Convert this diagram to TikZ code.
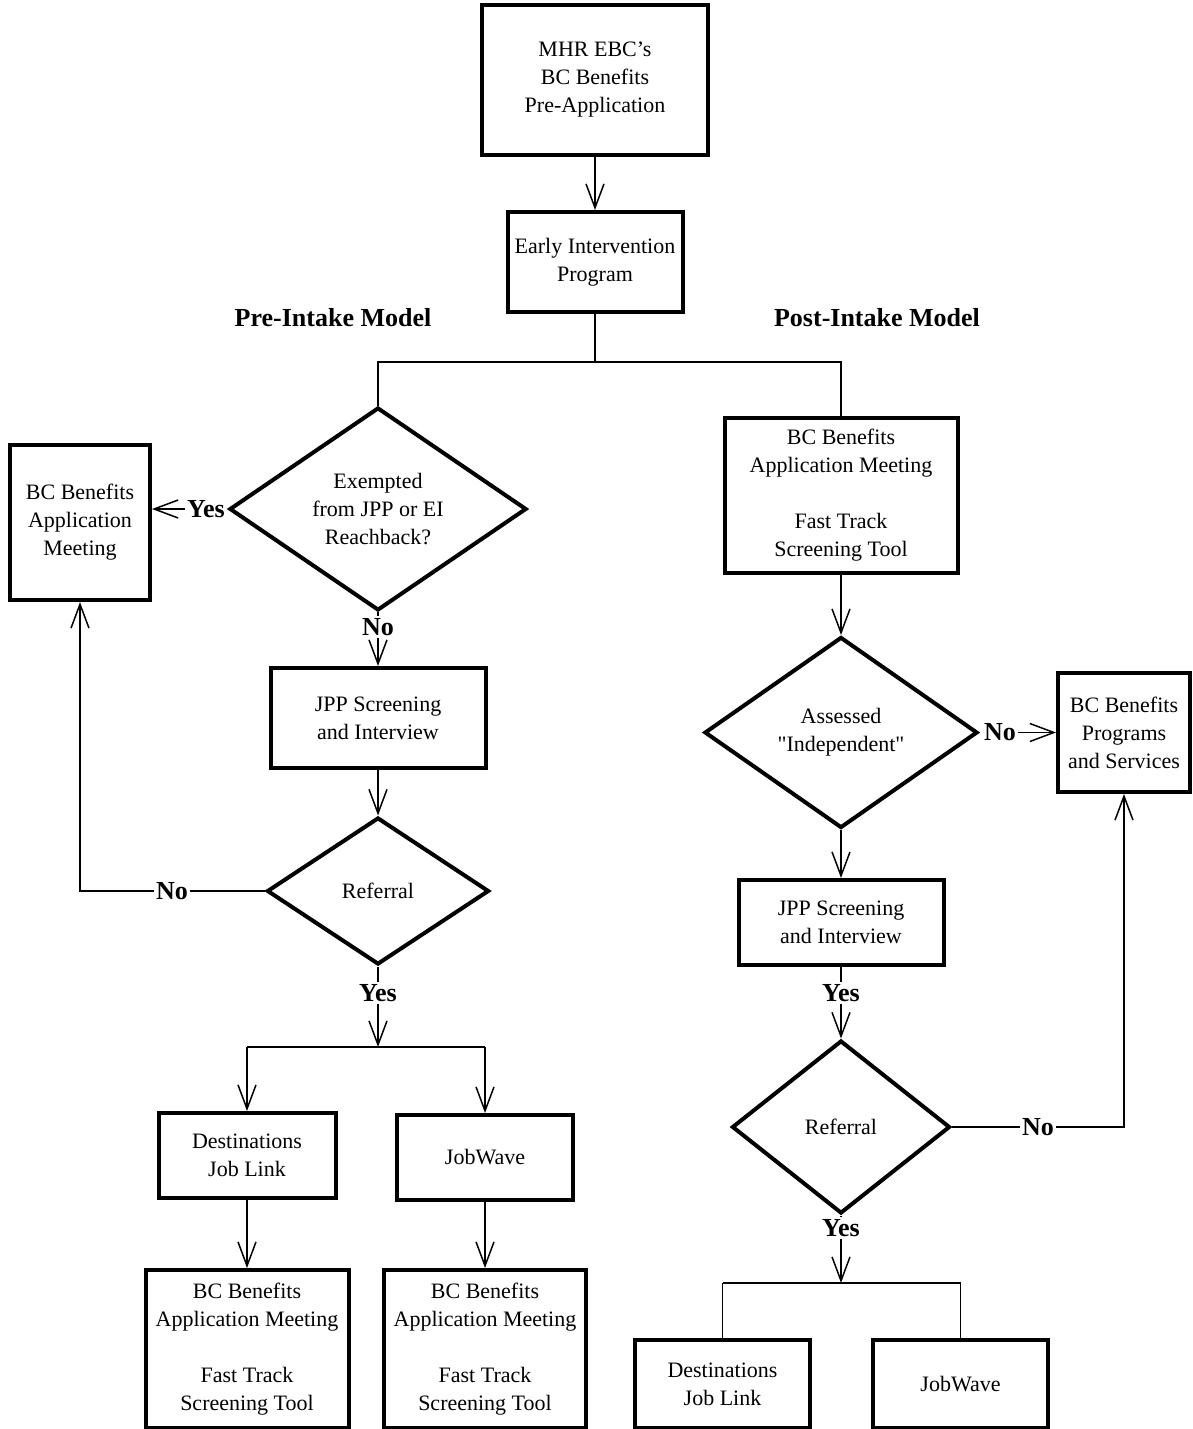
\documentclass[tikz,border=0pt]{standalone}
\usepackage{fontspec}
\setmainfont{Liberation Serif}[Ligatures=TeXOff]
\usetikzlibrary{arrows.meta,shapes.geometric}
\begin{document}
\begin{tikzpicture}[x=0.5pt,y=-0.5pt,
  box/.style={draw,line width=2pt,inner sep=0pt,align=center,font=\fontsize{11}{14}\selectfont},
  dia/.style={draw,diamond,line width=2pt,inner sep=0pt,align=center,font=\fontsize{11}{14}\selectfont},
  lbl/.style={inner sep=1pt,font=\fontsize{13}{15}\selectfont\bfseries},
  conn/.style={line width=0.75pt},
  arr/.style={conn,-{Straight Barb[length=12pt,width=9pt]}},
]
\useasboundingbox (0,0) rectangle (1193,1429);
% top
\node[box,minimum width=113pt,minimum height=75pt] (top) at (595,80) {MHR EBC’s\\BC Benefits\\Pre-Application};
\node[box,minimum width=87.5pt,minimum height=50pt] (eip) at (595,262) {Early Intervention\\Program};
\node[lbl] (pre) at (333,318) {Pre-Intake Model};
\node[lbl] (post) at (877,318) {Post-Intake Model};
\coordinate (split) at (595,362);
% left column
\node[dia,minimum width=148.5pt,minimum height=99pt] (ex) at (378,509) {Exempted\\from JPP or EI\\Reachback?};
\node[box,minimum width=70pt,minimum height=77.5pt] (bam) at (80,522.5) {BC Benefits\\Application\\Meeting};
\node[lbl] (yes1) at (206,509) {Yes};
\node[lbl] (no1) at (378,627) {No};
\node[box,minimum width=107.5pt,minimum height=50pt] (jpp1) at (378,718) {JPP Screening\\and Interview};
\node[dia,minimum width=111pt,minimum height=73.5pt] (ref1) at (378,891) {Referral};
\node[lbl] (no2) at (172,891) {No};
\node[lbl] (yes2) at (378,993) {Yes};
\coordinate (b1) at (378,1047);
\node[box,minimum width=88.5pt,minimum height=42.5pt] (dest1) at (247,1155.5) {Destinations\\Job Link};
\node[box,minimum width=88pt,minimum height=42.5pt] (jw1) at (485,1157.5) {JobWave};
\node[box,minimum width=101.5pt,minimum height=79pt] (fin1) at (247,1349) {BC Benefits\\Application Meeting\\[14pt]Fast Track\\Screening Tool};
\node[box,minimum width=101pt,minimum height=79pt] (fin2) at (485,1349) {BC Benefits\\Application Meeting\\[14pt]Fast Track\\Screening Tool};
% right column
\node[box,minimum width=116.5pt,minimum height=77.5pt] (bam2) at (841,495.5) {BC Benefits\\Application Meeting\\[14pt]Fast Track\\Screening Tool};
\node[dia,minimum width=136.5pt,minimum height=95.5pt] (ind) at (841,732.5) {Assessed\\"Independent"};
\node[box,minimum width=66pt,minimum height=59.5pt] (prog) at (1124,732.5) {BC Benefits\\Programs\\and Services};
\node[lbl] (no3) at (1000,732.5) {No};
\node[box,minimum width=102.5pt,minimum height=42.5pt] (jpp2) at (841,922.5) {JPP Screening\\and Interview};
\node[lbl] (yes3) at (841,993) {Yes};
\node[dia,minimum width=109pt,minimum height=86.5pt] (ref2) at (841,1127) {Referral};
\node[lbl] (no4) at (1038,1127) {No};
\node[lbl] (yes4) at (841,1228) {Yes};
\coordinate (b2) at (841,1283);
\node[box,minimum width=87.5pt,minimum height=44pt] (dest2) at (722.5,1384) {Destinations\\Job Link};
\node[box,minimum width=87.5pt,minimum height=44pt] (jw2) at (960.5,1384) {JobWave};
% connectors
\draw[arr] (top) -- (eip);
\draw[conn] (eip.south) -- (split);
\draw[conn] (ex.north) |- (split) -| (bam2.north);
\draw[arr] (yes1.west) -- (yes1.west -| bam.east);
\draw[conn] (ex.south) -- (no1.north);
\draw[arr] (no1.south) -- (jpp1.north);
\draw[arr] (jpp1) -- (ref1);
\draw[conn] (ref1.west) -- (no2.east);
\draw[arr] (no2.west) -| (bam.south);
\draw[conn] (ref1.south) -- (yes2.north);
\draw[arr] (yes2.south) -- (b1);
\draw[conn] (b1 -| dest1.north) -- (b1 -| jw1.north);
\draw[arr] (b1 -| dest1.north) -- (dest1.north);
\draw[arr] (b1 -| jw1.north) -- (jw1.north);
\draw[arr] (dest1) -- (fin1);
\draw[arr] (jw1) -- (fin2);
\draw[arr] (bam2) -- (ind);
\draw[arr] (no3.east) -- (no3.east -| prog.west);
\draw[arr] (ind) -- (jpp2);
\draw[conn] (jpp2.south) -- (yes3.north);
\draw[arr] (yes3.south) -- (ref2.north);
\draw[conn] (ref2.east) -- (no4.west);
\draw[arr] (no4.east) -| (prog.south);
\draw[conn] (ref2.south) -- (yes4.north);
\draw[arr] (yes4.south) -- (b2);
\draw[conn] (b2 -| dest2.north) -- (b2 -| jw2.north);
\draw[conn] (b2 -| dest2.north) -- (dest2.north);
\draw[conn] (b2 -| jw2.north) -- (jw2.north);
\end{tikzpicture}
\end{document}
